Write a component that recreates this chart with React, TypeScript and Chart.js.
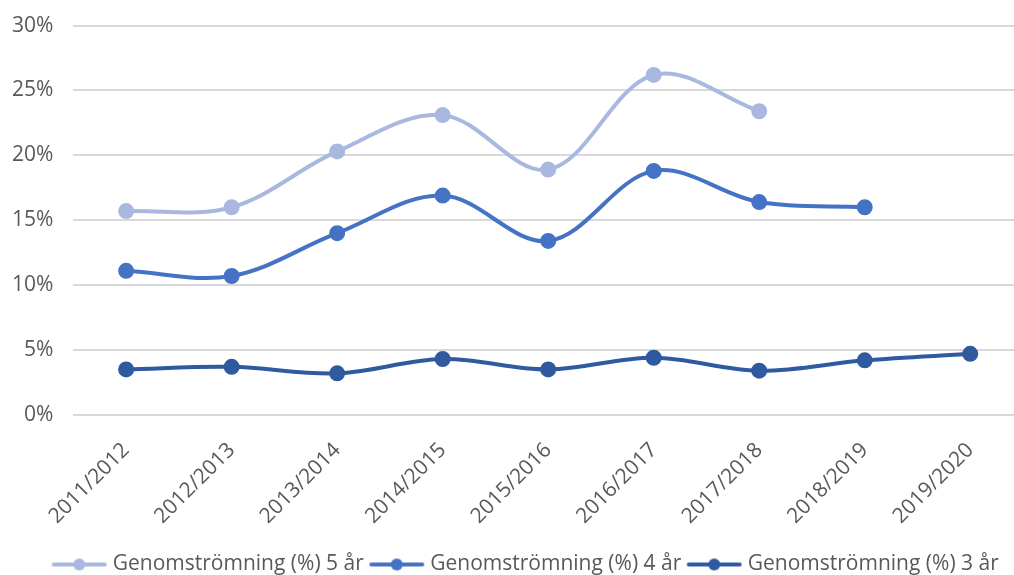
import React, { useEffect, useRef } from "react";
import { Chart, registerables } from "chart.js";

Chart.register(...registerables);

const categories = [
  "2011/2012",
  "2012/2013",
  "2013/2014",
  "2014/2015",
  "2015/2016",
  "2016/2017",
  "2017/2018",
  "2018/2019",
  "2019/2020",
];

const series5 = [15.7, 16.0, 20.3, 23.1, 18.9, 26.2, 23.4, null, null];
const series4 = [11.1, 10.7, 14.0, 16.9, 13.4, 18.8, 16.4, 16.0, null];
const series3 = [3.5, 3.7, 3.2, 4.3, 3.5, 4.4, 3.4, 4.2, 4.7];

const seriesNames = [
  "Genomströmning (%) 5 år",
  "Genomströmning (%) 4 år",
  "Genomströmning (%) 3 år",
];
const seriesColors = ["#A9B8DF", "#4472C4", "#2F5AA0"];

const FONT = "'Open Sans', 'Noto Sans', sans-serif";

function legendMarker(color: string): HTMLCanvasElement {
  const c = document.createElement("canvas");
  c.width = 57;
  c.height = 14;
  const ctx = c.getContext("2d")!;
  ctx.strokeStyle = color;
  ctx.lineWidth = 4;
  ctx.lineCap = "round";
  ctx.beginPath();
  ctx.moveTo(3, 7);
  ctx.lineTo(54, 7);
  ctx.stroke();
  ctx.fillStyle = color;
  ctx.beginPath();
  ctx.arc(28.5, 7, 6, 0, Math.PI * 2);
  ctx.fill();
  return c;
}

const legendShift = {
  id: "legendShift",
  afterLayout(chart: any) {
    if (chart.legend) {
      chart.legend.left += 15;
      chart.legend.right += 15;
    }
  },
};

export default function App() {
  const ref = useRef<HTMLCanvasElement | null>(null);

  useEffect(() => {
    document.body.style.margin = "0";
    if (!ref.current) return;
    const data = [series5, series4, series3];
    const chart = new Chart(ref.current, {
      type: "line",
      plugins: [legendShift],
      data: {
        labels: categories,
        datasets: data.map((d, i) => ({
          label: seriesNames[i],
          data: d,
          borderColor: seriesColors[i],
          backgroundColor: seriesColors[i],
          pointBackgroundColor: seriesColors[i],
          pointBorderColor: seriesColors[i],
          borderWidth: 4,
          pointRadius: 6,
          pointHoverRadius: 6,
          tension: 0.35,
          spanGaps: false,
          fill: false,
        })),
      },
      options: {
        responsive: false,
        animation: false,
        layout: { padding: { left: -8, right: 0, top: 0, bottom: -10 } },
        plugins: {
          tooltip: { enabled: false },
          legend: {
            position: "bottom",
            align: "center",
            labels: {
              usePointStyle: true,
              pointStyleWidth: 46,
              color: "#595959",
              font: { family: FONT, size: 21 },
              padding: 10,
              generateLabels: (ch: any) =>
                ch.data.datasets.map((ds: any, i: number) => ({
                  text: ds.label,
                  fillStyle: seriesColors[i],
                  strokeStyle: seriesColors[i],
                  lineWidth: 0,
                  pointStyle: legendMarker(seriesColors[i]),
                  hidden: false,
                  datasetIndex: i,
                  fontColor: "#595959",
                })),
            },
          },
        },
        scales: {
          x: {
            offset: true,
            grid: { display: false },
            border: { display: false },
            ticks: {
              color: "#595959",
              font: { family: FONT, size: 21 },
              minRotation: 45,
              maxRotation: 45,
              padding: 15,
            },
          },
          y: {
            min: 0,
            max: 30,
            border: { display: false },
            grid: { color: "#D9D9D9", lineWidth: 2, drawTicks: false },
            ticks: {
              stepSize: 5,
              color: "#595959",
              font: { family: FONT, size: 21 },
              padding: 20,
              callback: (v: any) => v + "%",
            },
          },
        },
      },
    });
    return () => chart.destroy();
  }, []);

  return (
    <div style={{ width: 1014, height: 575, overflow: "hidden", background: "#fff" }}>
      <canvas ref={ref} width={1033} height={582} style={{ display: "block", marginTop: -7 }} />
    </div>
  );
}
